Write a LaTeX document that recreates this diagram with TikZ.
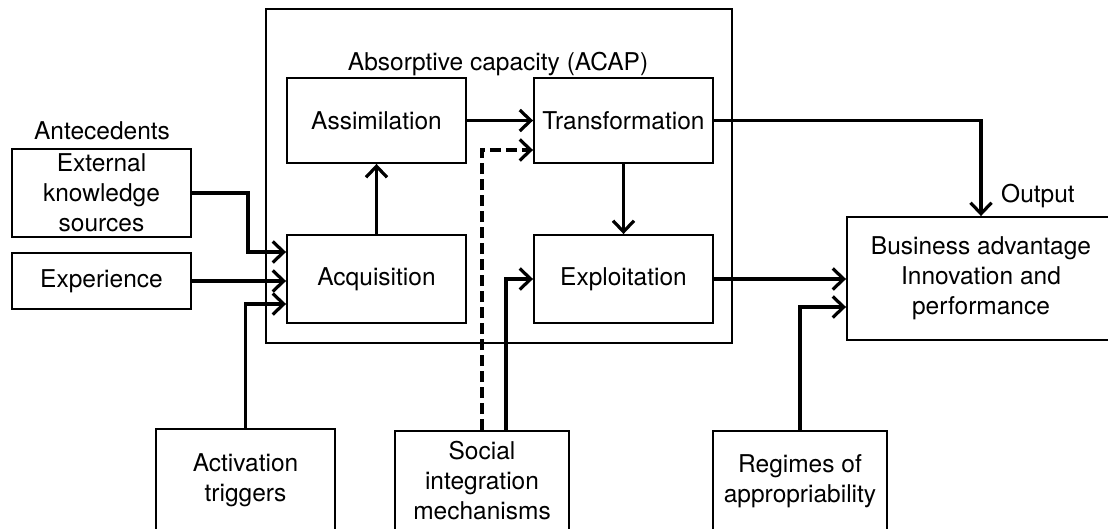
\documentclass[tikz,border=0pt]{standalone}
\usepackage{fontspec}
\setmainfont{TeX Gyre Heros}
\usetikzlibrary{arrows.meta,calc}
\tikzset{
  box/.style={draw, line width=1.9pt, inner sep=0pt, align=center,
    font=\fontsize{24.5}{30}\selectfont},
  lbl/.style={inner sep=0pt, font=\fontsize{24.5}{30}\selectfont},
  arr/.style={line width=3.2pt, -{Straight Barb[length=11pt,width=21pt,line width=3.2pt]}},
  dsh/.style={dash pattern=on 11pt off 5pt}
}
\begin{document}
\begin{tikzpicture}[x=1pt, y=-1pt]
  \clip (0,0) rectangle (1108,528);
  \fill[white] (0,0) rectangle (1108,528);

  % absorptive capacity frame
  \node[box, minimum width=466pt, minimum height=334pt] (acap) at (499,176) {};
  \node[lbl] (acaplbl) at (498,64) {Absorptive capacity (ACAP)};

  % ACAP components
  \node[box, minimum width=179pt, minimum height=85pt] (assim) at (376.5,120.5) {Assimilation};
  \node[box, minimum width=179pt, minimum height=85pt] (trans) at (623.5,120.5) {Transformation};
  \node[box, minimum width=179pt, minimum height=88pt] (acq)   at (376.5,279) {Acquisition};
  \node[box, minimum width=179pt, minimum height=88pt] (expl)  at (623.5,279) {Exploitation};

  % antecedents
  \node[lbl] (ante) at (102,131) {Antecedents};
  \node[box, minimum width=179pt, minimum height=88pt] (eks) at (101.5,193) {External\\knowledge\\sources};
  \node[box, minimum width=179pt, minimum height=56pt] (exp) at (101.5,281) {Experience};

  % contingent factors along the bottom
  \node[box, minimum width=179pt, minimum height=102pt] (act) at (245.5,480) {Activation\\triggers};
  \node[box, minimum width=174pt, minimum height=100pt] (soc) at (482,481) {Social\\integration\\mechanisms};
  \node[box, minimum width=174pt, minimum height=100pt] (reg) at (800,481) {Regimes of\\appropriability};

  % outcome
  \node[box, minimum width=268pt, minimum height=123pt] (bus) at (981,278.5) {Business advantage\\Innovation and\\performance};
  \node[lbl] (outlbl) at (1038,196) {Output};

  % connectors
  \coordinate (eksbend) at (248,252);
  \draw[arr] (eks.east) -| (eksbend) -- (eksbend -| acq.west);
  \draw[arr] (exp.east) -- (exp.east -| acq.west);
  \draw[arr] (act.north) |- ($(acq.west)+(0,25)$);
  \draw[arr] (acq) -- (assim);
  \draw[arr] (assim) -- (trans);
  \draw[arr] (trans) -- (expl);
  \draw[arr, dsh] (soc.north) |- ($(trans.west)+(0,29.5)$);
  \draw[arr] ($(soc.north)+(24,0)$) |- (expl.west);
  \draw[arr] (trans.east) -| (bus.north);
  \draw[arr] (expl.east) -- (expl.east -| bus.west);
  \draw[arr] (reg.north) |- ($(bus.west)+(0,28.5)$);
\end{tikzpicture}
\end{document}
